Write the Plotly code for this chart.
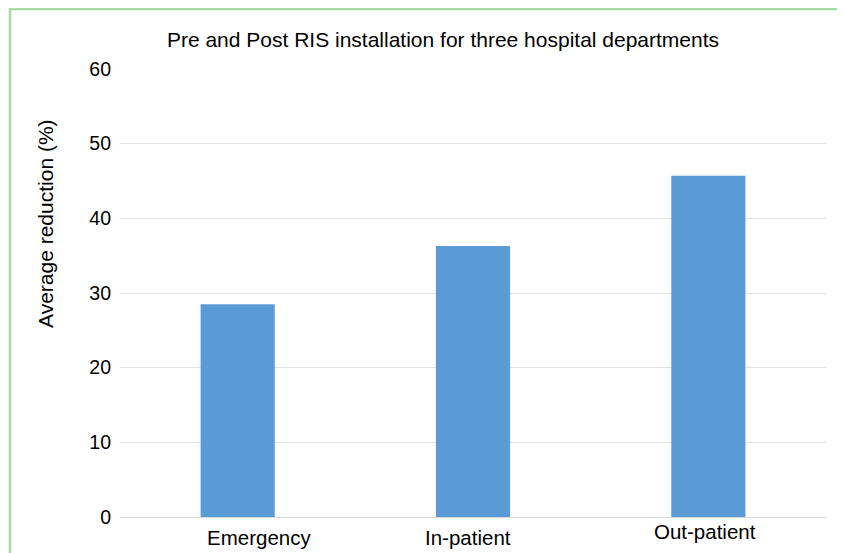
import plotly.graph_objects as go

categories = ["Emergency", "In-patient", "Out-patient"]
values = [28.5, 36.3, 45.7]
y_ticks = [0, 10, 20, 30, 40, 50, 60]

title_text = "Pre and Post RIS installation for three hospital departments"
y_title = "Average reduction (%)"

# the page body has an 8px margin, so the figure is 8px smaller than the window
W, H = 837, 545
L, R, T, B = 112, 19, 61, 36
pw, ph = W - L - R, H - T - B

font_family = "Liberation Sans, Arial, sans-serif"

fig = go.Figure()
fig.add_trace(go.Bar(
    x=categories, y=values, width=0.315,
    marker=dict(color="#5b9bd5", line=dict(width=0)),
))

# category labels as annotations (offsets as in reference)
label_shift = [(21, -20), (-5, -20), (-3, -14)]
annotations = []
for c, (dx, dy) in zip(categories, label_shift):
    annotations.append(dict(
        x=c, y=0, xref="x", yref="y", text=c, showarrow=False,
        xshift=dx, yshift=dy, font=dict(size=20.5, color="#000000", family=font_family),
        xanchor="center", yanchor="middle",
    ))
# y-axis title
annotations.append(dict(
    x=(37 - L) / pw, y=(H - B - 216) / ph, xref="paper", yref="paper",
    text=y_title, textangle=-90, showarrow=False,
    font=dict(size=21, color="#000000", family=font_family),
    xanchor="center", yanchor="middle",
))

fig.update_layout(
    width=W, height=H,
    margin=dict(l=L, r=R, t=T, b=B, autoexpand=False),
    paper_bgcolor="white", plot_bgcolor="white",
    showlegend=False,
    title=dict(text=title_text, x=435 / W, xanchor="center", y=1 - 32 / H, yanchor="middle",
               xref="container", yref="container",
               font=dict(size=21, color="#000000", family=font_family)),
    font=dict(family=font_family, color="#000000"),
    annotations=annotations,
    shapes=[dict(type="rect", xref="paper", yref="paper",
                 x0=(2 - L) / pw, x1=(834 - L) / pw,
                 y0=(H - B - 600) / ph, y1=(H - B - 1) / ph,
                 line=dict(color="#a6dba6", width=2.5), fillcolor="rgba(0,0,0,0)", layer="below")],
)
fig.update_xaxes(showticklabels=False, showgrid=False, showline=False, zeroline=False, ticks="")
fig.update_yaxes(range=[0, 60], tickvals=y_ticks, showgrid=True, gridcolor="#e3e3e3", gridwidth=1,
                 zeroline=True, zerolinecolor="#d9d9d9", zerolinewidth=1, showline=False, ticks="",
                 tickfont=dict(size=19.5, color="#000000", family=font_family), ticklabelstandoff=8)

fig.write_html("out.html")
